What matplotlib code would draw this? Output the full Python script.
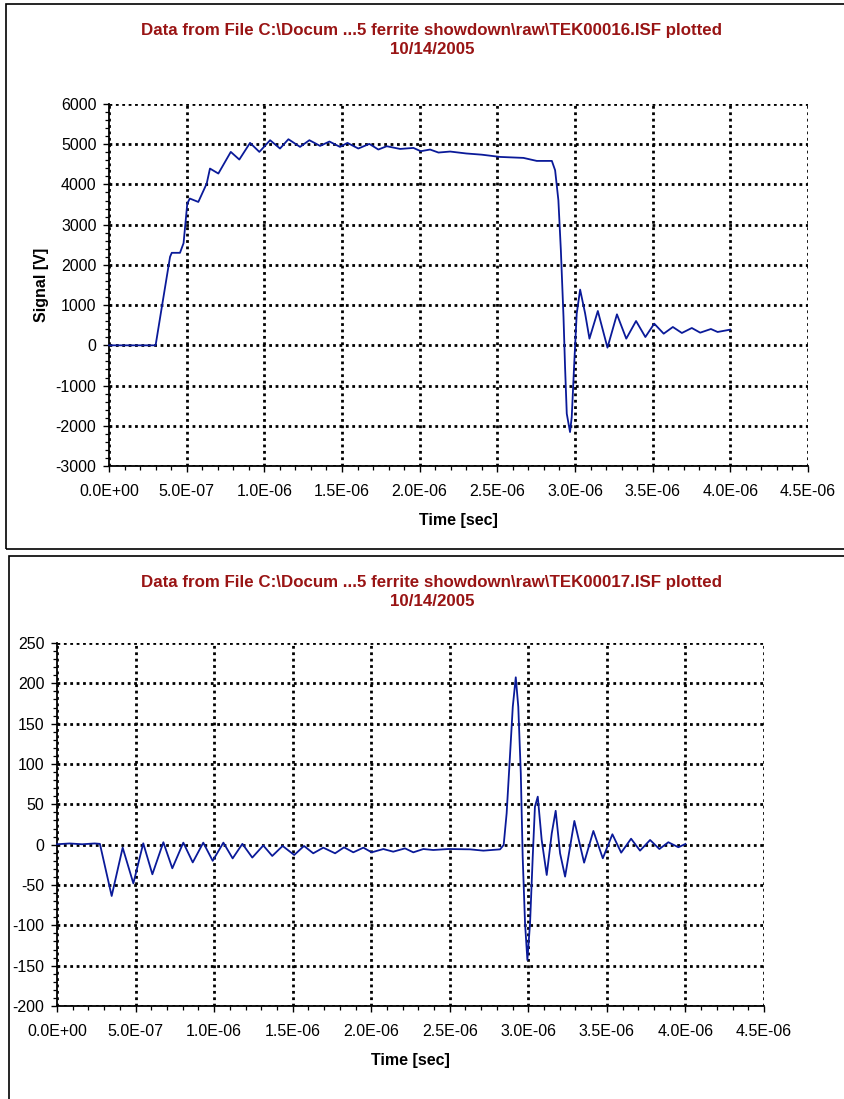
import matplotlib
matplotlib.use("Agg")
import matplotlib.pyplot as plt
from matplotlib.patches import Rectangle
from matplotlib.ticker import MultipleLocator, FuncFormatter
import numpy as np

plt.rcParams['font.family'] = ['Liberation Sans', 'DejaVu Sans']
plt.rcParams['axes.unicode_minus'] = False

# ---------------- data (time in microseconds) ----------------
title1 = "Data from File C:\\Docum ...5 ferrite showdown\\raw\\TEK00016.ISF plotted\n10/14/2005"
title2 = "Data from File C:\\Docum ...5 ferrite showdown\\raw\\TEK00017.ISF plotted\n10/14/2005"

t1_us = [0.0, 0.10, 0.20, 0.30, 0.34, 0.393, 0.404, 0.457, 0.48, 0.504, 0.52, 0.575,
         0.629, 0.650, 0.704, 0.784, 0.839, 0.908, 0.968, 1.037, 1.101, 1.155, 1.23,
         1.29, 1.359, 1.419, 1.487, 1.535, 1.605, 1.676, 1.734, 1.788, 1.874, 1.96,
         2.007, 2.067, 2.121, 2.196, 2.30, 2.40, 2.518, 2.668, 2.754, 2.851, 2.872,
         2.893, 2.909, 2.926, 2.936, 2.947, 2.968, 2.979, 2.994, 3.011, 3.033, 3.065,
         3.093, 3.147, 3.209, 3.27, 3.33, 3.393, 3.453, 3.51, 3.571, 3.63, 3.688,
         3.752, 3.806, 3.875, 3.918, 3.999]
v1 = [0, 0, 0, 0, 950, 2200, 2300, 2300, 2540, 3525, 3650, 3565,
      4022, 4395, 4271, 4809, 4619, 5033, 4809, 5100, 4893, 5124, 4934,
      5100, 4958, 5067, 4934, 5033, 4893, 5008, 4868, 4950, 4883, 4908,
      4826, 4868, 4793, 4818, 4770, 4740, 4684, 4660, 4585, 4585, 4353,
      3607, 2363, 704, -540, -1699, -2156, -1784, -540, 788, 1385, 796,
      166, 854, -58, 771, 166, 605, 207, 539, 290, 456, 307,
      431, 315, 406, 332, 390]

t2_us = [0.0, 0.08, 0.16, 0.24, 0.273, 0.348, 0.418, 0.486, 0.549, 0.607, 0.677,
         0.734, 0.804, 0.864, 0.931, 0.991, 1.059, 1.118, 1.18, 1.243, 1.313,
         1.37, 1.436, 1.51, 1.572, 1.631, 1.695, 1.77, 1.827, 1.886, 1.95, 2.003,
         2.077, 2.14, 2.215, 2.268, 2.332, 2.395, 2.491, 2.629, 2.714, 2.82,
         2.843, 2.862, 2.884, 2.901, 2.92, 2.936, 2.952, 2.964, 2.979, 2.994,
         3.011, 3.028, 3.042, 3.06, 3.085, 3.117, 3.149, 3.174, 3.202, 3.234,
         3.293, 3.355, 3.414, 3.474, 3.535, 3.591, 3.654, 3.711, 3.775, 3.834,
         3.891, 3.955, 4.0]
v2 = [0.5, 1.5, 0.5, 1.5, 1, -63.6, -3.7, -48, 1.7, -36.7, 3,
      -29.3, 2.5, -22, 2.5, -20, 2.5, -17, 1, -16, -1,
      -14, -1.6, -12.8, -1.6, -10.7, -3.7, -10.7, -3.3, -9.5, -3.7, -9.5,
      -5.4, -8.7, -4.6, -9.5, -5.4, -6.6, -5.4, -5.8, -7.4, -5.8,
      -0.4, 39, 113, 171, 207.5, 171, 88.5, -15, -97.4, -143,
      -97, -15, 47, 59.5, 5.8, -37.6, 14, 42, -10.7, -39.6,
      29.4, -22.3, 17, -16.9, 12.9, -9.9, 7.4, -7.4, 5.8, -5.4,
      3, -3.2, 0.9]

ylim1 = (-3000, 6000)
ylim2 = (-200, 250)
xlim = (0, 4.5e-6)

W, H = 844, 1099
fig = plt.figure(figsize=(W / 100, H / 100), dpi=100)

# frames
fig.add_artist(Rectangle((6 / W, 1 - 549 / H), 900 / W, (549 - 4) / H,
                         transform=fig.transFigure, fill=False, lw=1.2, ec='black'))
fig.add_artist(Rectangle((9 / W, -0.05), 900 / W, 1 - 556 / H + 0.05,
                         transform=fig.transFigure, fill=False, lw=1.2, ec='black'))

line_color = '#0a1a99'
title_color = '#991414'


def style_axes(ax, ylim, ymaj, ymin):
    ax.set_xlim(*xlim)
    ax.set_ylim(*ylim)
    ax.xaxis.set_major_locator(MultipleLocator(0.5e-6))
    ax.xaxis.set_minor_locator(MultipleLocator(0.1e-6))
    ax.yaxis.set_major_locator(MultipleLocator(ymaj))
    ax.yaxis.set_minor_locator(MultipleLocator(ymin))
    ax.xaxis.set_major_formatter(FuncFormatter(lambda x, p: f"{x:.1E}"))
    ax.yaxis.set_major_formatter(FuncFormatter(lambda y, p: f"{int(round(y))}"))
    ax.grid(True, which='major', color='black', linestyle=(0, (1.0, 1.3)), lw=2.0)
    ax.set_axisbelow(True)
    for s in ('top', 'right'):
        ax.spines[s].set_visible(False)
    for s in ('left', 'bottom'):
        ax.spines[s].set_linewidth(1.3)
    ax.tick_params(axis='both', which='major', direction='out', length=4, width=1.0,
                   labelsize=11.5, color='black')
    ax.tick_params(axis='both', which='minor', direction='out', length=3, width=0.9)
    ax.tick_params(axis='x', which='major', pad=9)
    ax.tick_params(axis='y', which='major', pad=5)


# top chart
ax1 = fig.add_axes([109 / W, 1 - 466 / H, (808 - 109) / W, (466 - 104) / H])
ax1.plot(np.array(t1_us) * 1e-6, v1, color=line_color, lw=1.3, clip_on=False, zorder=3,
         solid_joinstyle='round')
style_axes(ax1, ylim1, 1000, 200)
ax1.set_xlabel("Time [sec]", fontsize=11.5, fontweight='bold', labelpad=10)
ax1.set_ylabel("Signal [V]", fontsize=11.5, fontweight='bold', labelpad=5)
fig.text(432 / W, 1 - 40 / H, title1, ha='center', va='center', color=title_color,
         fontsize=12.2, fontweight='bold', linespacing=1.35)

# bottom chart
ax2 = fig.add_axes([57 / W, 1 - 1006 / H, (764 - 57) / W, (1006 - 643) / H])
ax2.plot(np.array(t2_us) * 1e-6, v2, color=line_color, lw=1.3, clip_on=False, zorder=3,
         solid_joinstyle='round')
style_axes(ax2, ylim2, 50, 10)
ax2.set_xlabel("Time [sec]", fontsize=11.5, fontweight='bold', labelpad=10)
fig.text(432 / W, 1 - 592 / H, title2, ha='center', va='center', color=title_color,
         fontsize=12.2, fontweight='bold', linespacing=1.35)

fig.savefig("out.png", dpi=100)
